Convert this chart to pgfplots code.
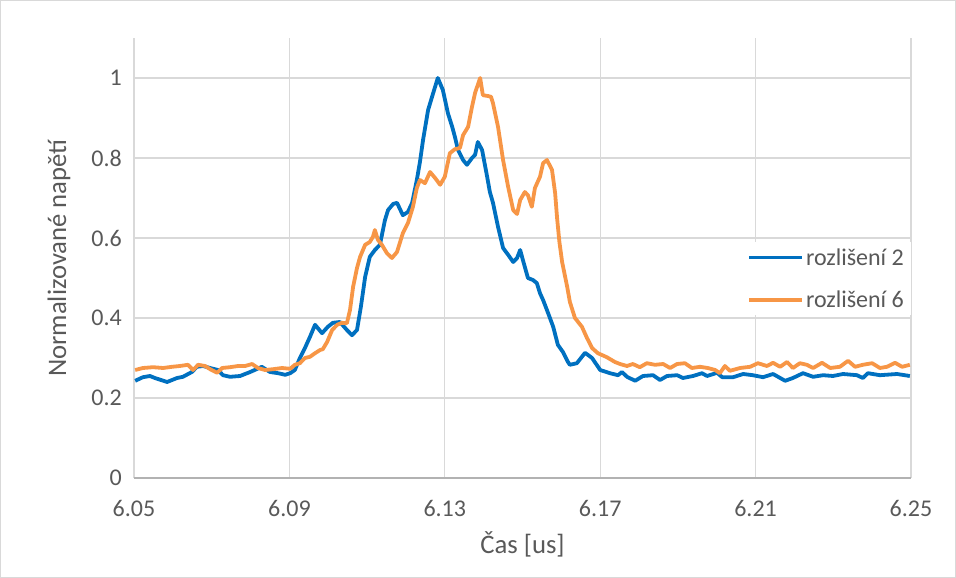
\documentclass[border=0pt]{standalone}
\usepackage{pgfplots}
\pgfplotsset{compat=1.18}
\usepackage{fontspec}
\setmainfont{Carlito}
\definecolor{cblue}{HTML}{0070C0}
\definecolor{corange}{HTML}{F79646}
\definecolor{ctext}{HTML}{595959}
\definecolor{cgrid}{HTML}{D9D9D9}
\begin{document}
\begin{tikzpicture}[x=1pt,y=1pt]
\useasboundingbox (-134,-100) rectangle (822,478);
\draw[cgrid,line width=1pt] (-133.5,-99.5) rectangle (821.5,477.5);
\begin{axis}[
  at={(0,0)}, anchor=south west,
  scale only axis, width=777pt, height=440pt,
  xmin=6.05, xmax=6.25, ymin=0, ymax=1.1,
  xtick={6.05,6.09,6.13,6.17,6.21,6.25},
  ytick={0,0.2,0.4,0.6,0.8,1},
  grid=major,
  grid style={cgrid, line width=1.2pt},
  axis lines*=left,
  x axis line style={-, draw=black!30, line width=1.2pt},
  y axis line style={-, draw=none},
  major tick length=0pt,
  tick style={draw=none},
  /pgf/number format/assume math mode=true,
  x tick label style={/pgf/number format/.cd, fixed, precision=2, fixed zerofill, /tikz/.cd,
     font=\fontsize{24}{28}\selectfont, text=ctext, inner sep=0pt, anchor=north, yshift=-22pt},
  y tick label style={/pgf/number format/.cd, fixed, precision=1, /tikz/.cd,
     font=\fontsize{24}{28}\selectfont, text=ctext, inner sep=0pt, anchor=east, xshift=-12pt},
  xlabel={Čas [us]},
  ylabel={Normalizované napětí},
  xlabel style={at={(axis description cs:0.5,0)}, anchor=base, yshift=-75pt,
     font=\fontsize{26.7}{32}\selectfont, text=ctext, inner sep=0pt},
  ylabel style={at={(axis description cs:-0.0875,0.5)}, anchor=base,
     font=\fontsize{26.7}{32}\selectfont, text=ctext, inner sep=0pt},
  legend style={at={(rel axis cs:0.7825,0.536)}, anchor=north west, draw=none, fill=white,
     font=\fontsize{24}{28}\selectfont, text=ctext, inner xsep=5pt, inner ysep=4pt,
     row sep=20pt},
  legend cell align=left,
  legend image code/.code={\draw[#1] (0pt,0pt) -- (53pt,0pt);},
  every axis plot/.append style={line width=3.8pt, line join=round},
]
\addplot[cblue, no markers] coordinates {
(6.0503,0.243) (6.0523,0.252) (6.0541,0.255) (6.0554,0.250) (6.0585,0.240)
(6.0611,0.250) (6.0626,0.253) (6.0649,0.265) (6.0662,0.278) (6.0678,0.280)
(6.0696,0.275) (6.0716,0.270) (6.0729,0.257) (6.0747,0.253) (6.0773,0.255)
(6.0799,0.265) (6.0829,0.278) (6.0850,0.265) (6.0871,0.262) (6.0889,0.258)
(6.0902,0.262) (6.0914,0.270) (6.0927,0.300) (6.0940,0.325) (6.0953,0.353)
(6.0966,0.383) (6.0984,0.362) (6.0999,0.378) (6.1012,0.388) (6.1030,0.390)
(6.1048,0.370) (6.1061,0.357) (6.1074,0.370) (6.1084,0.428) (6.1095,0.503)
(6.1107,0.553) (6.1120,0.570) (6.1133,0.583) (6.1146,0.645) (6.1154,0.670)
(6.1167,0.685) (6.1177,0.688) (6.1192,0.657) (6.1205,0.665) (6.1216,0.688)
(6.1228,0.745) (6.1236,0.790) (6.1244,0.845) (6.1257,0.920) (6.1270,0.962)
(6.1282,1.000) (6.1295,0.970) (6.1308,0.912) (6.1319,0.878) (6.1326,0.853)
(6.1334,0.820) (6.1347,0.795) (6.1357,0.783) (6.1370,0.800) (6.1378,0.808)
(6.1385,0.840) (6.1396,0.820) (6.1409,0.753) (6.1416,0.715) (6.1424,0.688)
(6.1437,0.628) (6.1450,0.575) (6.1463,0.558) (6.1476,0.540) (6.1486,0.550)
(6.1494,0.570) (6.1501,0.545) (6.1514,0.500) (6.1527,0.495) (6.1537,0.487)
(6.1545,0.462) (6.1553,0.445) (6.1566,0.412) (6.1579,0.378) (6.1591,0.333)
(6.1604,0.315) (6.1617,0.290) (6.1622,0.283) (6.1640,0.287) (6.1661,0.313)
(6.1679,0.300) (6.1700,0.270) (6.1725,0.262) (6.1746,0.257) (6.1756,0.265)
(6.1769,0.253) (6.1790,0.243) (6.1810,0.255) (6.1836,0.257) (6.1854,0.245)
(6.1872,0.255) (6.1898,0.257) (6.1913,0.250) (6.1939,0.255) (6.1962,0.262)
(6.1975,0.255) (6.2001,0.263) (6.2014,0.252) (6.2042,0.252) (6.2068,0.260)
(6.2093,0.257) (6.2119,0.252) (6.2145,0.260) (6.2176,0.243) (6.2196,0.250)
(6.2222,0.262) (6.2248,0.253) (6.2274,0.257) (6.2299,0.255) (6.2325,0.260)
(6.2361,0.257) (6.2376,0.250) (6.2389,0.262) (6.2420,0.257) (6.2464,0.260)
(6.2497,0.255)
};
\addlegendentry{rozlišení 2}
\addplot[corange, no markers] coordinates {
(6.0503,0.270) (6.0523,0.275) (6.0549,0.277) (6.0575,0.275) (6.0598,0.278)
(6.0618,0.280) (6.0639,0.283) (6.0652,0.270) (6.0665,0.283) (6.0683,0.280)
(6.0696,0.272) (6.0714,0.263) (6.0727,0.275) (6.0747,0.277) (6.0768,0.280)
(6.0786,0.280) (6.0804,0.285) (6.0819,0.275) (6.0837,0.270) (6.0858,0.272)
(6.0881,0.275) (6.0902,0.273) (6.0914,0.283) (6.0927,0.287) (6.0940,0.300)
(6.0953,0.303) (6.0966,0.312) (6.0979,0.320) (6.0986,0.322) (6.0997,0.340)
(6.1010,0.370) (6.1023,0.383) (6.1035,0.388) (6.1048,0.387) (6.1056,0.420)
(6.1064,0.478) (6.1074,0.525) (6.1082,0.553) (6.1095,0.583) (6.1107,0.590)
(6.1115,0.603) (6.1120,0.620) (6.1128,0.595) (6.1138,0.583) (6.1151,0.562)
(6.1164,0.550) (6.1177,0.565) (6.1192,0.612) (6.1205,0.637) (6.1218,0.678)
(6.1228,0.725) (6.1236,0.745) (6.1249,0.737) (6.1262,0.765) (6.1275,0.750)
(6.1288,0.733) (6.1300,0.753) (6.1313,0.812) (6.1326,0.822) (6.1339,0.825)
(6.1347,0.857) (6.1360,0.878) (6.1370,0.928) (6.1378,0.963) (6.1391,1.000)
(6.1398,0.957) (6.1411,0.955) (6.1419,0.953) (6.1424,0.937) (6.1437,0.878)
(6.1450,0.795) (6.1463,0.728) (6.1476,0.670) (6.1486,0.660) (6.1494,0.695)
(6.1506,0.715) (6.1514,0.707) (6.1524,0.678) (6.1532,0.725) (6.1545,0.753)
(6.1553,0.787) (6.1563,0.795) (6.1576,0.770) (6.1584,0.712) (6.1589,0.650)
(6.1595,0.590) (6.1602,0.540) (6.1615,0.478) (6.1622,0.440) (6.1635,0.400)
(6.1653,0.378) (6.1666,0.350) (6.1679,0.325) (6.1694,0.312) (6.1717,0.302)
(6.1738,0.290) (6.1751,0.285) (6.1769,0.280) (6.1784,0.285) (6.1802,0.277)
(6.1820,0.287) (6.1841,0.283) (6.1862,0.285) (6.1880,0.275) (6.1898,0.285)
(6.1918,0.287) (6.1936,0.275) (6.1957,0.278) (6.1977,0.275) (6.1996,0.270)
(6.2008,0.262) (6.2021,0.280) (6.2034,0.268) (6.2060,0.275) (6.2086,0.278)
(6.2106,0.287) (6.2129,0.280) (6.2145,0.288) (6.2163,0.278) (6.2181,0.290)
(6.2196,0.275) (6.2214,0.287) (6.2232,0.283) (6.2248,0.275) (6.2271,0.288)
(6.2292,0.275) (6.2317,0.278) (6.2338,0.293) (6.2356,0.278) (6.2376,0.283)
(6.2400,0.287) (6.2420,0.275) (6.2438,0.278) (6.2459,0.288) (6.2477,0.278)
(6.2497,0.283)
};
\addlegendentry{rozlišení 6}
\end{axis}
\end{tikzpicture}
\end{document}
